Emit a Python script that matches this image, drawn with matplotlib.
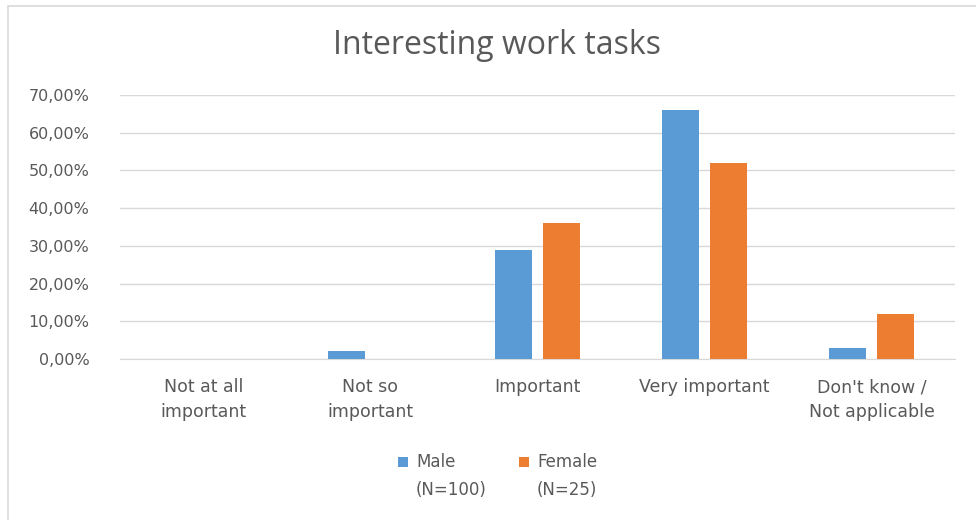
import matplotlib
matplotlib.use("Agg")
import matplotlib.pyplot as plt
from matplotlib.patches import Rectangle
import numpy as np

categories = ["Not at all\nimportant", "Not so\nimportant", "Important", "Very important", "Don't know /\nNot applicable"]
male = [0, 2, 29, 66, 3]
female = [0, 0, 36, 52, 12]
series_labels = ["Male\n(N=100)", "Female\n(N=25)"]
yticks = [0, 10, 20, 30, 40, 50, 60, 70]
title = "Interesting work tasks"

blue = "#5B9BD5"
orange = "#ED7D31"
txt = "#595959"
colors = [blue, orange]

plt.rcParams['font.family'] = ['DejaVu Sans']
fig = plt.figure(figsize=(9.76, 5.2), dpi=100)
fig.patch.set_facecolor("white")
fig.add_artist(Rectangle((8/976, -0.1), 1.2, 1 - 6/520 + 0.1, transform=fig.transFigure,
                         fill=False, edgecolor="#D9D9D9", linewidth=1.2))

ax = fig.add_axes([120/976, 1 - 359/520, 835/976, (359 - 95)/520])
x = np.arange(len(categories))
w = 0.22
gap = 0.066
ax.bar(x - (w + gap) / 2, male, w, color=blue, zorder=3)
ax.bar(x + (w + gap) / 2, female, w, color=orange, zorder=3)

ax.set_xlim(-0.5, len(categories) - 0.5)
ax.set_ylim(0, 70)
ax.set_yticks(yticks)
ax.set_yticklabels([f"{v},00%" for v in yticks], color=txt, fontsize=11.5, family="DejaVu Sans")
ax.set_xticks(x)
ax.set_xticklabels(categories, color=txt, fontsize=12.5, linespacing=1.45, family="DejaVu Sans")
ax.tick_params(axis='both', length=0)
ax.tick_params(axis='y', pad=22)
ax.tick_params(axis='x', pad=14)
ax.grid(axis='y', color="#D9D9D9", linewidth=1, zorder=0)
for s in ["top", "right", "left"]:
    ax.spines[s].set_visible(False)
ax.spines["bottom"].set_color("#D9D9D9")

fig.text(497/976, 1 - 45/520, title, ha="center", va="center", fontsize=23,
         color=txt, family="Open Sans")

# legend (manual, handle aligned with first text line)
leg_x = [398, 519]
for lx, lab, c in zip(leg_x, series_labels, colors):
    fig.add_artist(Rectangle((lx/976, 1 - 467/520), 10/976, 10/520,
                             transform=fig.transFigure, facecolor=c, edgecolor="none"))
    fig.text((lx + 18)/976, 1 - 453/520, lab, ha="left", va="top", fontsize=12,
             color=txt, family="DejaVu Sans", linespacing=1.7)

fig.savefig("out.png", dpi=100, facecolor="white")
